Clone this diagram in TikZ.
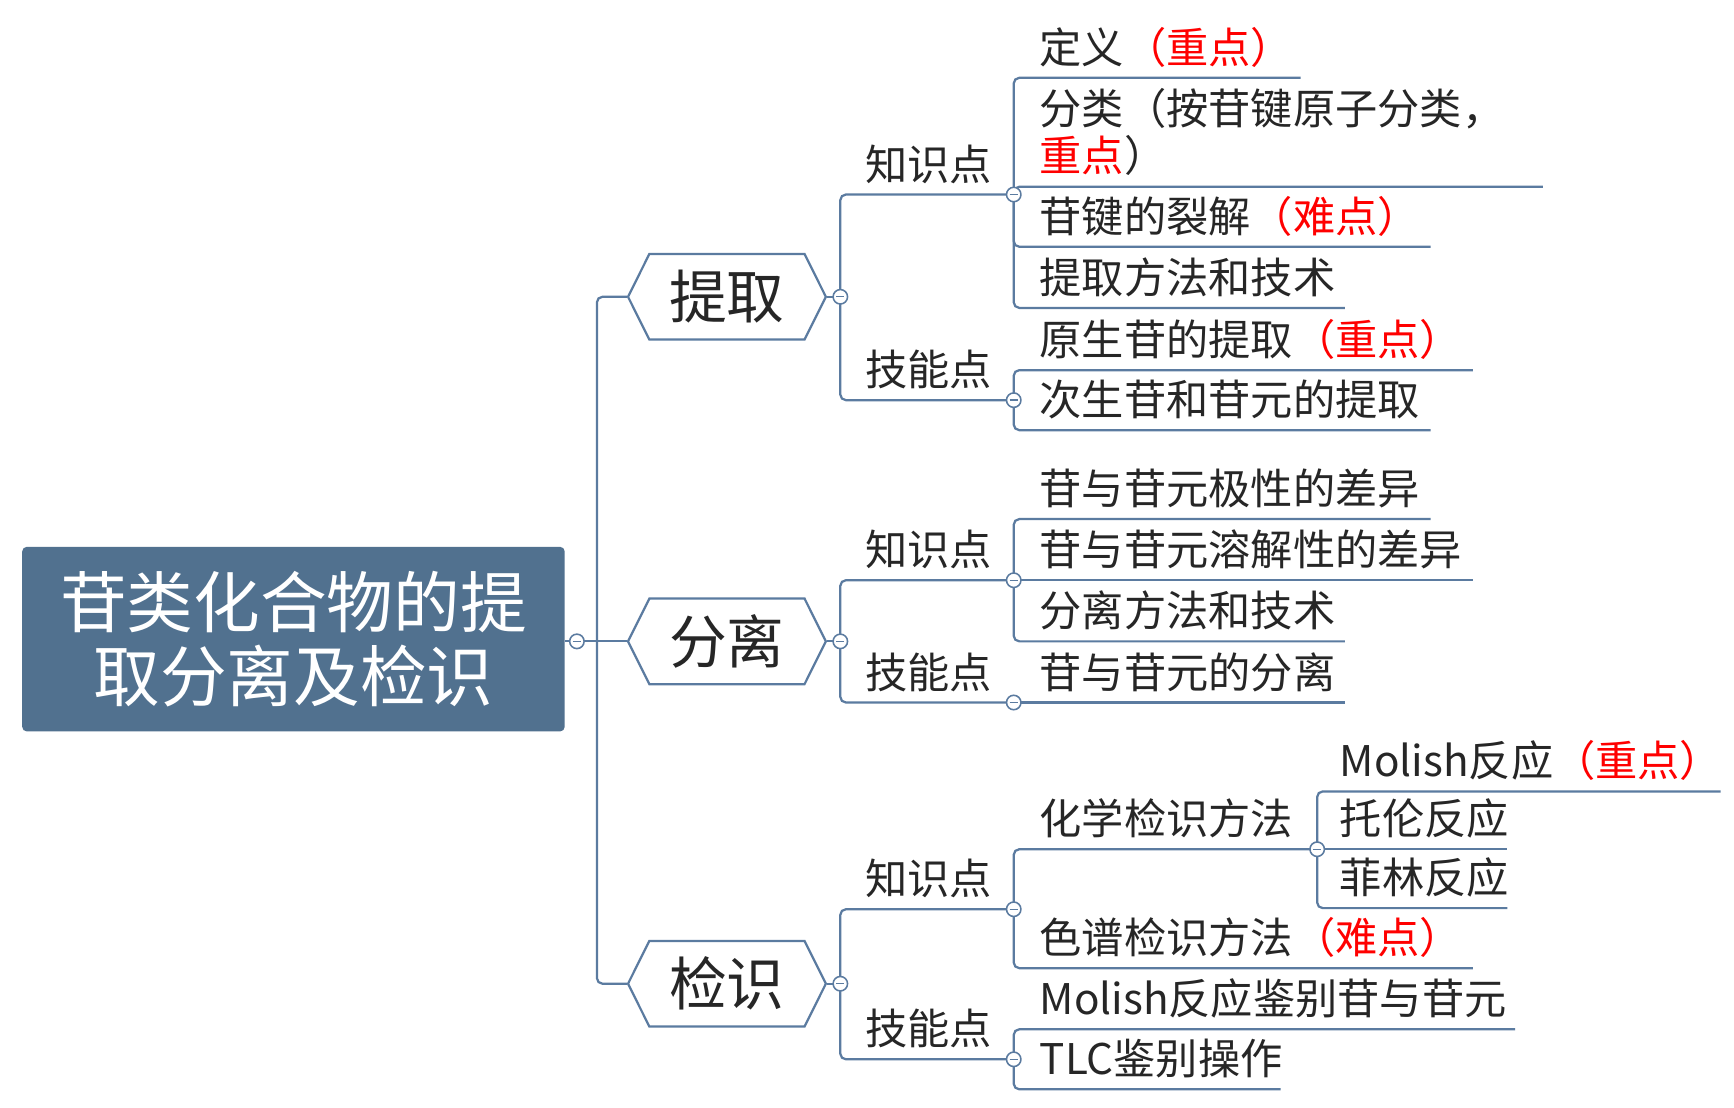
\documentclass[tikz,border=0pt]{standalone}
\usepackage{fontspec}
\setmainfont{Noto Sans CJK SC}
\usetikzlibrary{shapes.symbols}
\definecolor{lnblue}{HTML}{5B7BA0}
\definecolor{rootblue}{HTML}{51718F}
\definecolor{txtgray}{HTML}{262626}
\newcommand{\hl}[1]{\textcolor{red}{#1}}

\tikzset{
  conn/.style={draw=lnblue, line width=1pt, rounded corners=2.5pt},
  foldmark/.style={circle, draw=lnblue, fill=white, line width=0.7pt, minimum size=6.5pt, inner sep=0pt,
    path picture={\draw[lnblue, line width=0.6pt] ([xshift=-1.8pt]path picture bounding box.center) -- ([xshift=1.8pt]path picture bounding box.center);}},
  rootbox/.style={rectangle, rounded corners=2pt, fill=rootblue, text=white, minimum width=244pt,
    minimum height=83pt, align=center, font=\fontsize{30}{33.5}\selectfont},
  hexbox/.style={signal, signal to=west and east, signal pointer angle=127, draw=lnblue, line width=1pt,
    fill=white, minimum width=89pt, minimum height=38.5pt, inner sep=0pt, text=txtgray,
    font=\fontsize{26}{30}\selectfont},
  midtext/.style={anchor=base west, inner sep=0pt, text=txtgray, font=\fontsize{19}{21}\selectfont},
  leaftext/.style={midtext, align=left},
}

\begin{document}
\begin{tikzpicture}[x=0.5pt, y=-0.5pt]
  \useasboundingbox[fill=white] (0,0) rectangle (1560,996);

  % root and the three main branches
  \node[rootbox] (root) at (264,575) {苷类化合物的提\\取分离及检识};
  \node[hexbox] (tiqu) at (654,267) {提取};
  \node[hexbox] (fenli) at (654,577) {分离};
  \node[hexbox] (jianshi) at (654,885) {检识};

  \coordinate (r0) at (519,577);
  \coordinate (rj) at (537,577);
  \draw[conn] (root.east |- rj) -- (rj);
  \draw[conn] (rj) |- (tiqu.west);
  \draw[conn] (rj) -- (fenli.west);
  \draw[conn] (rj) |- (jianshi.west);

  % second level
  \foreach \g/\h/\y/\yk/\yj in {a/tiqu/267/175/360, b/fenli/577/522/632, c/jianshi/885/818/953} {
    \coordinate (\g0) at (756,\y);
    \coordinate (\g-k) at (912,\yk);
    \coordinate (\g-j) at (912,\yj);
    \draw[conn] (\h.east) -- (\g0);
    \draw[conn] (\g0) |- (\g-k);
    \draw[conn] (\g0) |- (\g-j);
    \node[midtext] (\g zs) at (778,\yk-13) {知识点};
    \node[midtext] (\g jn) at (778,\yj-13) {技能点};
  }

  % chemical tests
  \coordinate (c-m) at (1185,764);
  \draw[conn] (c-k) |- (c-m);
  \node[leaftext] (c1) at (935,751) {化学检识方法};

  % leaves
  \foreach \p/\n/\y/\r/\x/\t in {
      a-k/a1/70/1170/935/{定义\hl{（重点）}},
      a-k/a3/222/1287/935/{苷键的裂解\hl{（难点）}},
      a-k/a4/277/1210/935/{提取方法和技术},
      a-j/a5/333/1325/935/{原生苷的提取\hl{（重点）}},
      a-j/a6/387/1287/935/{次生苷和苷元的提取},
      b-k/b1/467/1287/935/{苷与苷元极性的差异},
      b-k/b3/577/1210/935/{分离方法和技术},
      c-k/c2/871/1325/935/{色谱检识方法\hl{（难点）}},
      c-j/c3/926/1363/935/{Molish反应鉴别苷与苷元},
      c-j/c4/980/1152/935/{TLC鉴别操作},
      c-m/m1/712/1548/1205/{Molish反应\hl{（重点）}},
      c-m/m3/817/1356/1205/{菲林反应}} {
    \coordinate (\n-r) at (\r,\y);
    \draw[conn] (\p) |- (\n-r);
    \node[leaftext] (\n) at (\x,\y-13) {\t};
  }
  \foreach \p/\n/\y/\r/\x/\t in {
      b-k/b2/522/1325/935/{苷与苷元溶解性的差异},
      b-j/b4/632/1210/935/{苷与苷元的分离},
      c-m/m2/764/1356/1205/{托伦反应}} {
    \coordinate (\n-r) at (\r,\y);
    \draw[conn] (\p) -- (\n-r);
    \node[leaftext] (\n) at (\x,\y-13) {\t};
  }
  \coordinate (a2-r) at (1388,168);
  \draw[conn] (a-k) |- (a2-r);
  \node[leaftext] (a2) at (935,154) {分类（按苷键原子分类，\\\hl{重点}）};

  % fold marks
  \foreach \d in {r0, a0, a-k, a-j, b0, b-k, b-j, c0, c-k, c-j, c-m}
    \node[foldmark] (\d-f) at (\d) {};
\end{tikzpicture}
\end{document}
